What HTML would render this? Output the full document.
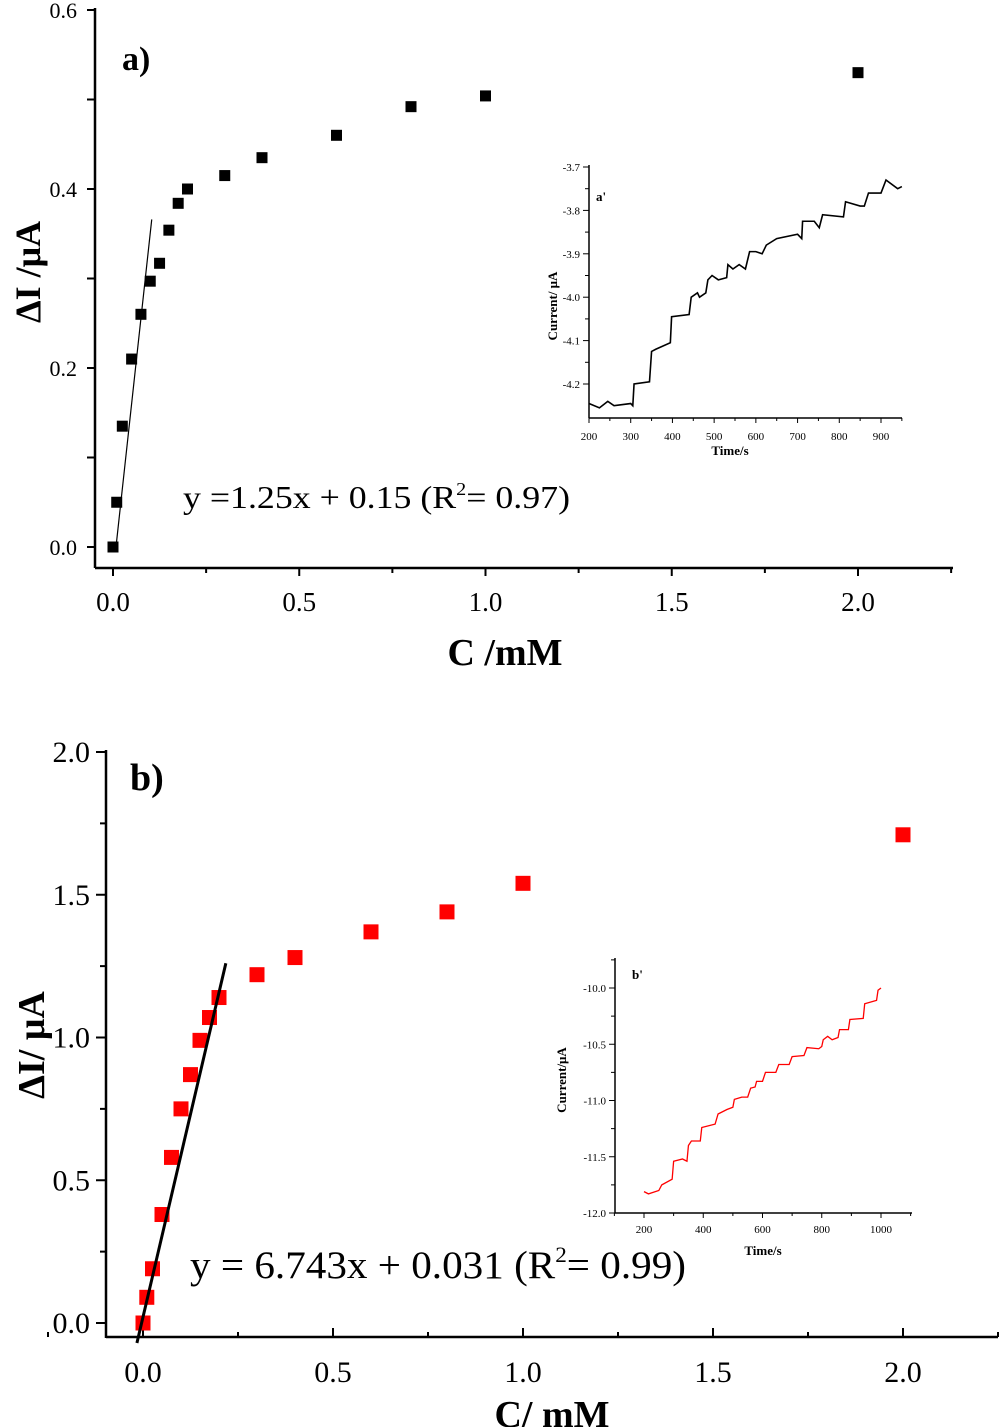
<!DOCTYPE html>
<html><head><meta charset="utf-8"><style>
body{margin:0;background:#fff}svg{display:block}
text{font-family:"Liberation Serif",serif;fill:#000}
</style></head><body>
<svg id="s" width="1000" height="1427"></svg>
<script>
const aConc=[0,0.01,0.025,0.05,0.075,0.1,0.125,0.15,0.175,0.2,0.3,0.4,0.6,0.8,1.0,2.0];
const aDI=[0,0.05,0.135,0.21,0.26,0.297,0.317,0.354,0.384,0.4,0.415,0.435,0.46,0.492,0.504,0.53];
const aFitX=[0.008,0.104];const aFitY=[0,0.366];
const aXTicks=[0,0.5,1.0,1.5,2.0];const aXLab=["0.0","0.5","1.0","1.5","2.0"];
const aYTicks=[0,0.2,0.4,0.6];const aYLab=["0.0","0.2","0.4","0.6"];
const bConc=[0,0.01,0.025,0.05,0.075,0.1,0.125,0.15,0.175,0.2,0.3,0.4,0.6,0.8,1.0,2.0];
const bDI=[0,0.09,0.19,0.38,0.58,0.75,0.87,0.99,1.07,1.14,1.22,1.28,1.37,1.44,1.54,1.71];
const bFitX=[-0.016,0.218];const bFitY=[-0.07,1.26];
const bXTicks=[0,0.5,1.0,1.5,2.0];const bXLab=["0.0","0.5","1.0","1.5","2.0"];
const bYTicks=[0,0.5,1.0,1.5,2.0];const bYLab=["0.0","0.5","1.0","1.5","2.0"];
const iaT=[200,225,245,260,300,305,308,345,350,360,395,398,440,445,460,465,480,485,495,510,530,533,545,560,575,585,600,615,625,650,700,710,712,740,752,760,810,815,850,860,870,900,912,940,950];
const iaI=[-4.245,-4.255,-4.24,-4.25,-4.245,-4.25,-4.2,-4.195,-4.125,-4.12,-4.105,-4.045,-4.04,-4.0,-3.99,-4.0,-3.99,-3.96,-3.95,-3.96,-3.955,-3.925,-3.935,-3.925,-3.935,-3.895,-3.895,-3.9,-3.88,-3.865,-3.855,-3.865,-3.825,-3.825,-3.84,-3.81,-3.815,-3.78,-3.79,-3.79,-3.76,-3.76,-3.73,-3.75,-3.745];
const ibT=[200,215,250,260,295,300,330,345,350,360,390,395,440,450,480,500,505,530,550,560,575,580,600,610,645,655,690,700,740,750,790,800,805,820,835,855,860,890,895,940,945,985,990,1000];
const ibI=[-11.81,-11.83,-11.8,-11.75,-11.7,-11.54,-11.52,-11.54,-11.4,-11.36,-11.36,-11.24,-11.21,-11.12,-11.08,-11.06,-10.99,-10.97,-10.97,-10.89,-10.88,-10.83,-10.83,-10.75,-10.75,-10.68,-10.68,-10.61,-10.6,-10.53,-10.54,-10.52,-10.46,-10.43,-10.46,-10.44,-10.37,-10.37,-10.28,-10.27,-10.14,-10.11,-10.02,-10.0];

const S=document.getElementById('s');const NS='http://www.w3.org/2000/svg';
function el(t,a,txt){const e=document.createElementNS(NS,t);for(const k in a)e.setAttribute(k,a[k]);if(txt!=null)e.textContent=txt;S.appendChild(e);return e;}
function line(x1,y1,x2,y2,w,c){return el('line',{x1,y1,x2,y2,stroke:c||'#000','stroke-width':w||2});}
function lin(d0,d1,p0,p1){return v=>p0+(v-d0)*(p1-p0)/(d1-d0);}

// Chart a
(function(){
const X=lin(0,2,113,858),Y=lin(0,0.6,547,10);
let e=line(95,8,95,568,2.5);
e=line(95,568,953,568,2.5);
for(let v=0;v<=2.25;v+=0.25){const x=X(v);line(x,568,x,(Math.round(v*4)%2==0)?576:573,2);}
aXTicks.forEach((v,i)=>{const t=el('text',{x:X(v),y:611,'font-size':27,'text-anchor':'middle'},aXLab[i]);});
for(let v=0;v<=0.6001;v+=0.1){const y=Y(v);line(87,y,95,y,2);}
aYTicks.forEach((v,i)=>{const t=el('text',{x:77,y:Y(v)+8,'font-size':22,'text-anchor':'end'},aYLab[i]);});
aConc.forEach((c,i)=>{const r=el('rect',{x:X(c)-5.5,y:Y(aDI[i])-5.5,width:11,height:11,fill:'#000'});});
e=el('line',{x1:X(aFitX[0]),y1:Y(aFitY[0]),x2:X(aFitX[1]),y2:Y(aFitY[1]),stroke:'#000','stroke-width':1.2});
})();
// Chart b
(function(){
const X=lin(0,2,143,903),Y=lin(0,2,1323,752);
let e=line(106,750,106,1338,2.5);
e=line(106,1337,998,1337,2.5);
for(let v=-0.25;v<=2.25;v+=0.25){const x=X(v);line(x,1337,x,(Math.round(v*4)%2==0)?1328:1332,2);}
bXTicks.forEach((v,i)=>{const t=el('text',{x:X(v),y:1382,'font-size':30,'text-anchor':'middle'},bXLab[i]);});
for(let v=0;v<=2.001;v+=0.25){const y=Y(v);line(106,y,(Math.round(v*4)%2==0)?96:100,y,2);}
bYTicks.forEach((v,i)=>{const t=el('text',{x:90,y:Y(v)+10,'font-size':30,'text-anchor':'end'},bYLab[i]);});
bConc.forEach((c,i)=>{const r=el('rect',{x:X(c)-7.5,y:Y(bDI[i])-7.5,width:15,height:15,fill:'#f00'});});
e=el('line',{x1:X(bFitX[0]),y1:Y(bFitY[0]),x2:X(bFitX[1]),y2:Y(bFitY[1]),stroke:'#000','stroke-width':3});
})();
// Inset a
(function(){
const X=lin(200,900,589,881),Y=lin(-3.7,-4.2,167,384);
line(589,165,589,418,1.5);line(589,418,902,418,1.5);
for(let v=200;v<=950;v+=50){line(X(v),418,X(v),v%100?421:423,1);}
for(let v=200;v<=900;v+=100){const t=el('text',{x:X(v),y:440,'font-size':11,'text-anchor':'middle'},String(v));}
for(let k=0;k<=10;k++){const v=-3.7-k*0.05;const y=Y(v);if(y>418)break;line(589,y,k%2?585:583,y,1);}
for(let k=0;k<=5;k++){const v=-3.7-k*0.1;const t=el('text',{x:580,y:Y(v)+4,'font-size':11,'text-anchor':'end'},v.toFixed(1));}
let p=el('polyline',{points:iaT.map((t,i)=>X(t)+','+Y(iaI[i])).join(' '),fill:'none',stroke:'#000','stroke-width':1.6});
let t=el('text',{x:730,y:455,'font-size':13,'font-weight':'bold','text-anchor':'middle'},'Time/s');
t=el('text',{x:0,y:0,'font-size':13,'font-weight':'bold','text-anchor':'middle',transform:'translate(557,306) rotate(-90)'},'Current/ μA');
t=el('text',{x:596,y:201,'font-size':13,'font-weight':'bold'},"a'");
})();
// Inset b
(function(){
const X=lin(200,1000,644,881),Y=lin(-10,-12,988,1213);
line(615,958,615,1213,1.5);line(615,1213,912,1213,1.5);
for(let v=100;v<=1100;v+=100){line(X(v),1213,X(v),v%200?1216:1218,1);}
for(let v=200;v<=1000;v+=200){const t=el('text',{x:X(v),y:1233,'font-size':11,'text-anchor':'middle'},String(v));}
for(let k=-1;k<=8;k++){const v=-10-k*0.25;const y=Y(v);line(615,y,k%2?611:609,y,1);}
for(let k=0;k<=4;k++){const v=-10-k*0.5;const t=el('text',{x:606,y:Y(v)+4,'font-size':11,'text-anchor':'end'},v.toFixed(1));}
let p=el('polyline',{points:ibT.map((t,i)=>X(t)+','+Y(ibI[i])).join(' '),fill:'none',stroke:'#f00','stroke-width':1.3});
let t=el('text',{x:763,y:1255,'font-size':13,'font-weight':'bold','text-anchor':'middle'},'Time/s');
t=el('text',{x:0,y:0,'font-size':13,'font-weight':'bold','text-anchor':'middle',transform:'translate(566,1080) rotate(-90)'},'Current/μA');
t=el('text',{x:632,y:979,'font-size':13,'font-weight':'bold'},"b'");
})();
</script>
<svg width="1000" height="1427" style="position:absolute;left:0;top:0">
<text x="122" y="70" font-size="34" font-weight="bold">a)</text>
<text transform="translate(40,272) rotate(-90)" text-anchor="middle" font-size="36" font-weight="bold">ΔI /μA</text>
<text x="505" y="665" text-anchor="middle" font-size="38" font-weight="bold">C /mM</text>
<text x="183" y="508" font-size="32" textLength="387" lengthAdjust="spacingAndGlyphs">y =1.25x + 0.15 (R<tspan dy="-13" font-size="18">2</tspan><tspan dy="13">= 0.97)</tspan></text>
<text x="130" y="790" font-size="38" font-weight="bold">b)</text>
<text transform="translate(44,1045) rotate(-90)" text-anchor="middle" font-size="38" font-weight="bold">ΔI/ μA</text>
<text x="552" y="1427" text-anchor="middle" font-size="38" font-weight="bold">C/ mM</text>
<text x="190" y="1278" font-size="39" textLength="496" lengthAdjust="spacingAndGlyphs">y = 6.743x + 0.031 (R<tspan dy="-16" font-size="22">2</tspan><tspan dy="16">= 0.99)</tspan></text>
</svg>
</body></html>
